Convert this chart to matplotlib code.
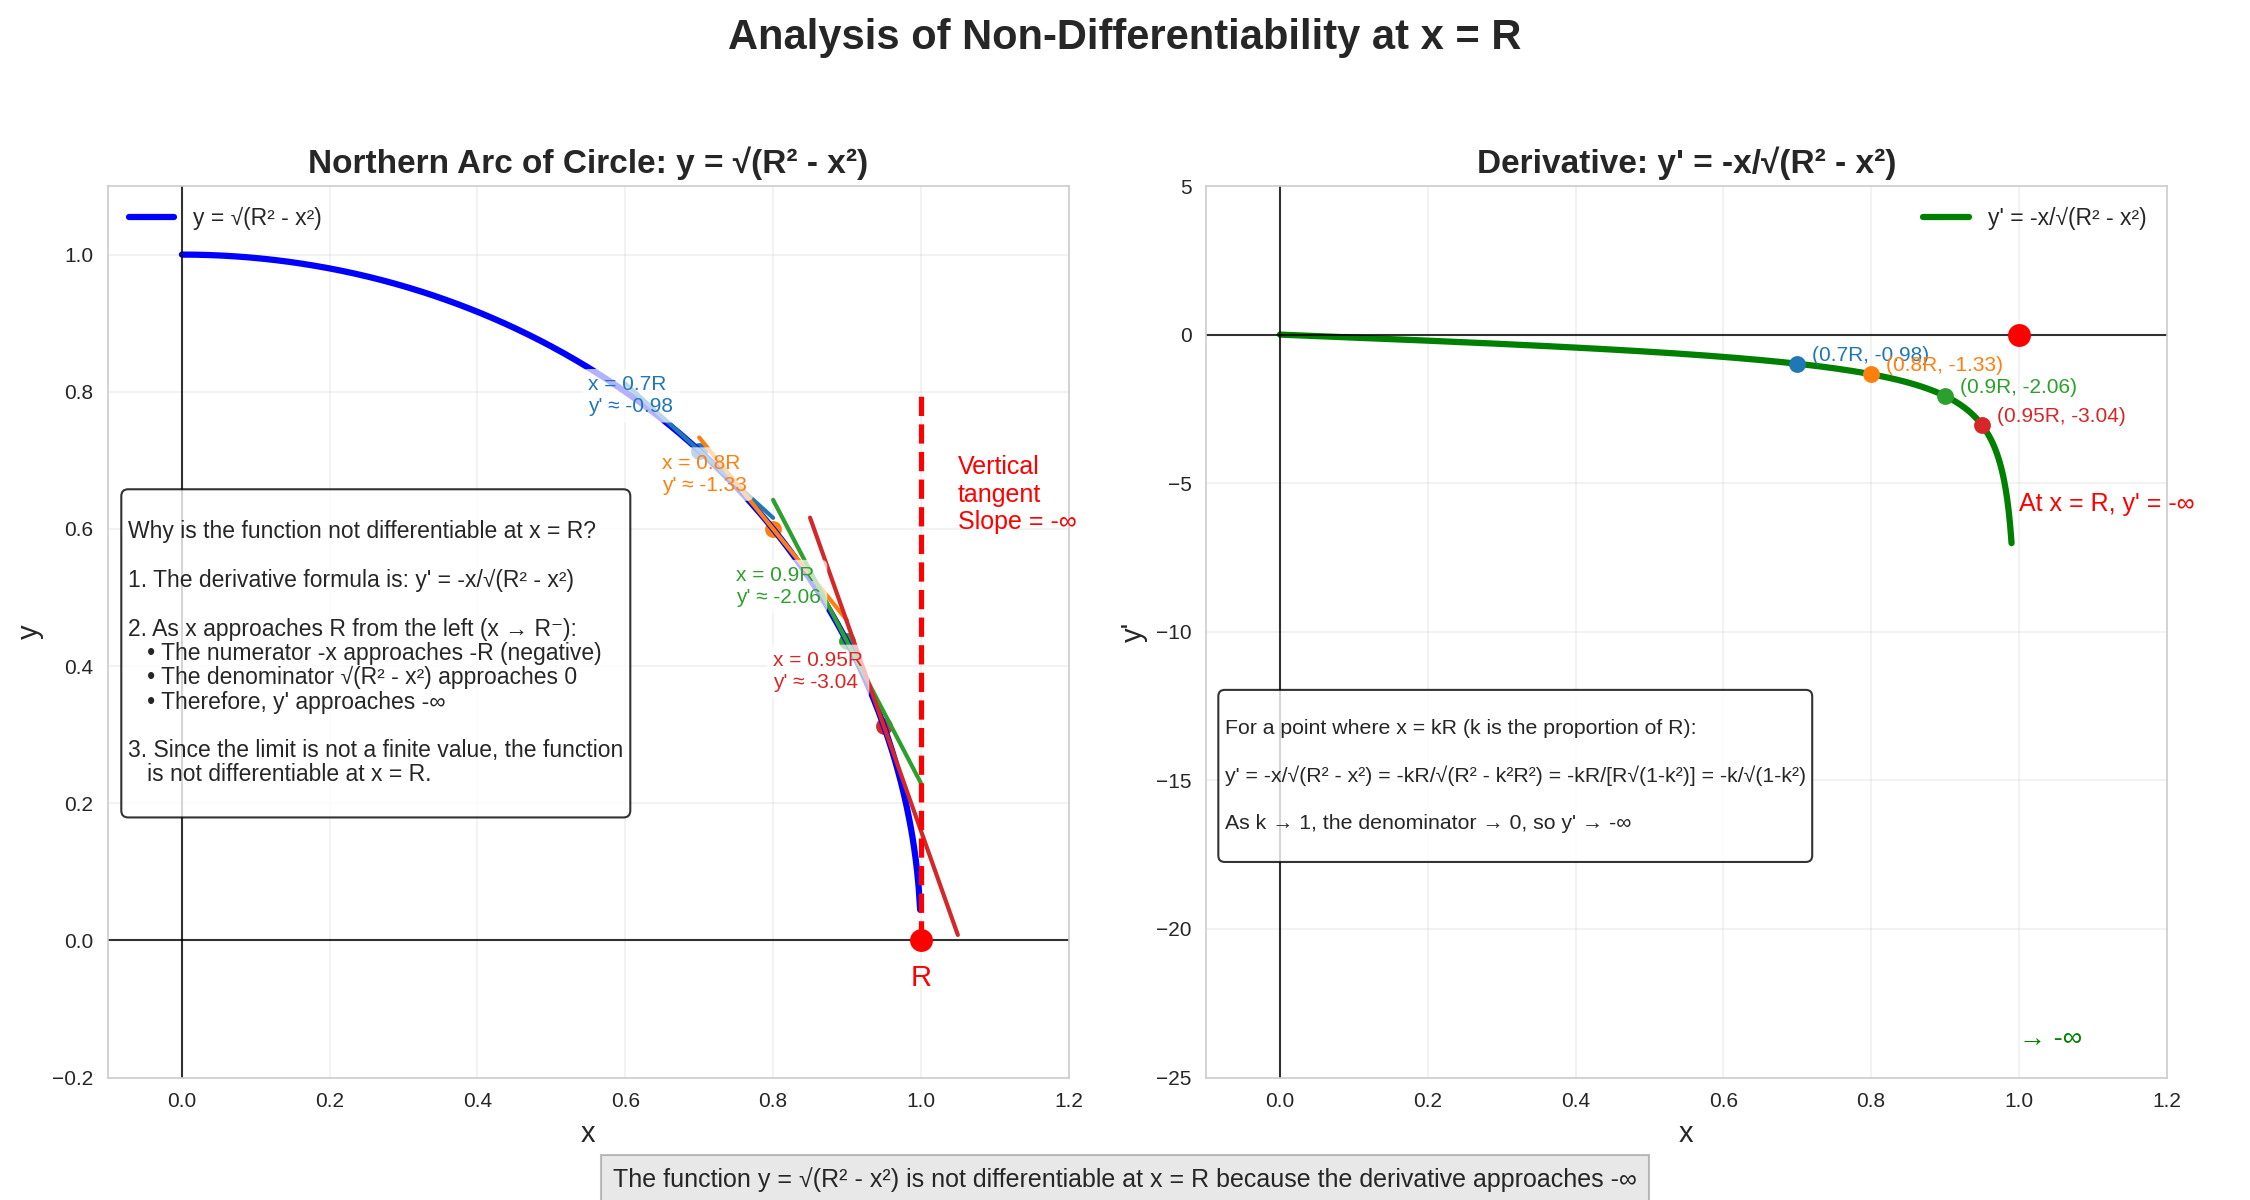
import numpy as np
import matplotlib
matplotlib.use("Agg")
import matplotlib.pyplot as plt
import seaborn as sns

# Daten: Einheitskreis (R = 1) und Punkte, an denen die Tangente gezeigt wird
R = 1.0
k_points = [0.7, 0.8, 0.9, 0.95]
k_colors = ['C0', 'C1', 'C2', 'C3']
slope_labels = ['-0.98', '-1.33', '-2.06', '-3.04']

x_arc = np.linspace(0, 0.999 * R, 500)
y_arc = np.sqrt(R**2 - x_arc**2)
x_der = np.linspace(0, 0.99 * R, 500)
y_der = -x_der / np.sqrt(R**2 - x_der**2)

sns.set_style('whitegrid')
plt.rcParams['font.family'] = ['Liberation Sans', 'DejaVu Sans']

fig, (ax1, ax2) = plt.subplots(1, 2, figsize=(15, 8), dpi=150)
fig.subplots_adjust(left=0.048, right=0.963, top=0.845, bottom=0.102, wspace=0.143)

# ---- linke Grafik: Halbkreis ----
ax1.plot(x_arc, y_arc, color='blue', lw=3, label='y = √(R² - x²)')
ax1.axhline(0, color='k', lw=1, alpha=0.8)
ax1.axvline(0, color='k', lw=1, alpha=0.8)

for k, c, s in zip(k_points, k_colors, slope_labels):
    x0 = k * R
    y0 = np.sqrt(R**2 - x0**2)
    m = -x0 / y0
    xt = np.array([x0 - 0.1, x0 + 0.1])
    ax1.plot(xt, y0 + m * (xt - x0), color=c, lw=2)
    ax1.scatter(x0, y0, color=c, s=50)
    ax1.text(x0 - 0.15, y0 + 0.08, f"x = {k}R\ny' ≈ {s}", color=c, fontsize=10,
             ha='left', va='center',
             bbox=dict(boxstyle='round,pad=0.3', fc='white', ec='none', alpha=0.7))

ax1.plot([R, R], [0, 0.8], color='red', ls='--', lw=2.5)
ax1.scatter(R, 0, color='red', s=100, zorder=6)
ax1.text(R, -0.055, 'R', color='red', fontsize=14, ha='center', va='center')
ax1.text(1.05, 0.65, 'Vertical\ntangent\nSlope = -∞', color='red', fontsize=12,
         ha='left', va='center')

expl = ("\nWhy is the function not differentiable at x = R?\n\n"
        "1. The derivative formula is: y' = -x/√(R² - x²)\n\n"
        "2. As x approaches R from the left (x → R⁻):\n"
        "   • The numerator -x approaches -R (negative)\n"
        "   • The denominator √(R² - x²) approaches 0\n"
        "   • Therefore, y' approaches -∞\n\n"
        "3. Since the limit is not a finite value, the function\n"
        "   is not differentiable at x = R.\n")
ax1.text(0.021, 0.2995, expl, transform=ax1.transAxes, fontsize=11, va='bottom', ha='left',
         linespacing=1.07,
         bbox=dict(boxstyle='round,pad=0.3', fc='white', ec='black', alpha=0.8))

ax1.set_xlim(-0.1, 1.2)
ax1.set_ylim(-0.2, 1.1)
ax1.set_title('Northern Arc of Circle: y = √(R² - x²)', fontsize=16, fontweight='bold')
ax1.set_xlabel('x', fontsize=14)
ax1.set_ylabel('y', fontsize=14)
ax1.legend(loc='upper left', fontsize=11, frameon=False)
ax1.grid(True, alpha=0.3)

# ---- rechte Grafik: Ableitung ----
ax2.plot(x_der, y_der, color='green', lw=3, label="y' = -x/√(R² - x²)")
ax2.axhline(0, color='k', lw=1, alpha=0.8)
ax2.axvline(0, color='k', lw=1, alpha=0.8)

for k, c, s in zip(k_points, k_colors, slope_labels):
    x0 = k * R
    d = -x0 / np.sqrt(R**2 - x0**2)
    ax2.scatter(x0, d, color=c, s=50, zorder=5)
    ax2.annotate(f"({k}R, {s})", xy=(x0, d), xytext=(7, 4), textcoords='offset points',
                 color=c, fontsize=10, ha='left', va='center')

ax2.scatter(R, 0, color='red', s=100, zorder=6)
ax2.text(1.0, -5.7, "At x = R, y' = -∞", color='red', fontsize=12, ha='left', va='center')
ax2.text(1.0, -23.7, '→ -∞', color='green', fontsize=13, ha='left', va='center')

formula = ("\nFor a point where x = kR (k is the proportion of R):\n\n"
           "y' = -x/√(R² - x²) = -kR/√(R² - k²R²) = -kR/[R√(1-k²)] = -k/√(1-k²)\n\n"
           "As k → 1, the denominator → 0, so y' → -∞\n")
ax2.text(0.0194, 0.249, formula, transform=ax2.transAxes, fontsize=10.2, va='bottom', ha='left',
         linespacing=1.27,
         bbox=dict(boxstyle='round,pad=0.3', fc='white', ec='black', alpha=0.8))

ax2.set_xlim(-0.1, 1.2)
ax2.set_ylim(-25, 5)
ax2.set_title("Derivative: y' = -x/√(R² - x²)", fontsize=16, fontweight='bold')
ax2.set_xlabel('x', fontsize=14)
ax2.set_ylabel("y'", fontsize=14)
ax2.legend(loc='upper right', fontsize=11, frameon=False)
ax2.grid(True, alpha=0.3)

fig.suptitle('Analysis of Non-Differentiability at x = R', fontsize=20, fontweight='bold', y=0.985)
fig.text(0.5, 0.017, "The function y = √(R² - x²) is not differentiable at x = R because the derivative approaches -∞",
         ha='center', va='center', fontsize=12,
         bbox=dict(boxstyle='square,pad=0.5', fc='lightgray', ec='gray', alpha=0.5))

fig.savefig('out.png', dpi=150)
